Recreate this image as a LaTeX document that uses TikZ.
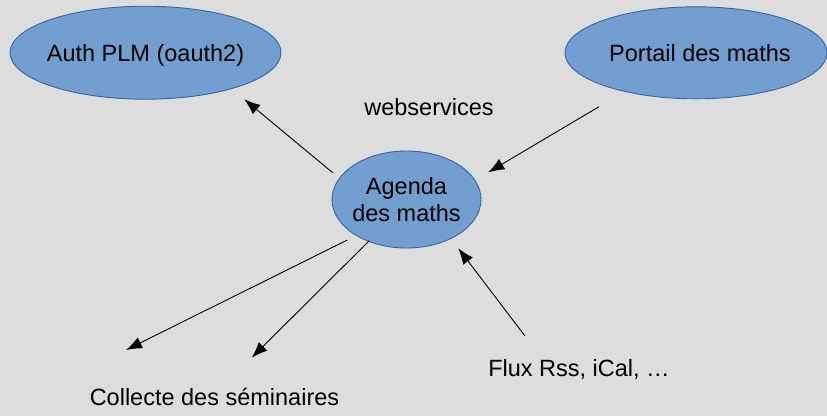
\documentclass[tikz,border=0pt]{standalone}
\usepackage{fontspec}
\setmainfont{Liberation Sans}
\usetikzlibrary{shapes.geometric,arrows.meta}
\definecolor{bgcol}{HTML}{DDDDDD}
\definecolor{efill}{HTML}{729FCF}
\definecolor{edraw}{HTML}{3465A4}
\begin{document}
\begin{tikzpicture}[x=1pt,y=-1pt,
  bubble/.style={ellipse, draw=edraw, fill=efill, line width=0.9pt, inner sep=0pt, inner xsep=-8pt,
    font=\fontsize{23.5}{27}\selectfont},
  oneline/.style={text height=16.8pt, text depth=0pt},
  lbl/.style={anchor=base, inner sep=0pt, font=\fontsize{23.5}{27}\selectfont},
  arr/.style={-{Latex[length=16pt,width=12pt]}, line width=0.9pt, black}]
\fill[bgcol] (0,0) rectangle (827,416);
\useasboundingbox (0,0) rectangle (827,416);

\node[bubble, oneline, minimum width=271pt, minimum height=93pt] (auth) at (145.5,52.7) {Auth PLM (oauth2)};
\node[bubble, oneline, minimum width=262pt, minimum height=92pt] (portail) at (696,52.8) {\hspace*{8pt}Portail des maths};
\node[bubble, align=center, minimum width=149pt, minimum height=97pt] (agenda) at (406.5,199.5) {Agenda\\des maths};

\node[lbl] (ws) at (429,115) {webservices};
\node[lbl] (coll) at (214.5,405) {Collecte des séminaires};
\node[lbl] (flux) at (579,376.7) {Flux Rss, iCal, …};

\coordinate (a1s) at (332.7,172.7);
\coordinate (a1e) at (244.3,99.3);
\coordinate (a2s) at (599,106.7);
\coordinate (a2e) at (488.3,172.3);
\coordinate (a3s) at (347.3,240);
\coordinate (a3e) at (126,350);
\coordinate (a4s) at (369.3,240.7);
\coordinate (a4e) at (251.7,357.7);
\coordinate (a5s) at (525,336);
\coordinate (a5e) at (458.3,248.3);

\draw[arr] (a1s) -- (a1e);
\draw[arr] (a2s) -- (a2e);
\draw[arr] (a3s) -- (a3e);
\draw[arr] (a4s) -- (a4e);
\draw[arr] (a5s) -- (a5e);
\end{tikzpicture}
\end{document}
